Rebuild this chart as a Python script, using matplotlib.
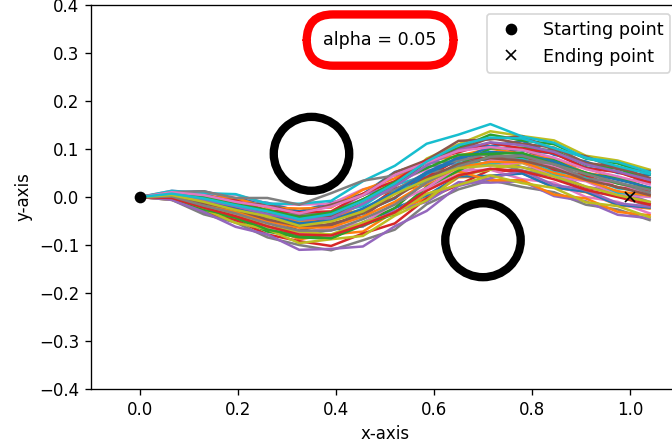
import numpy as np
import matplotlib.pyplot as plt
from matplotlib.patches import Circle

# x positions of the trajectory samples
x_steps = [0.0, 0.065, 0.13, 0.195, 0.26, 0.325, 0.39, 0.455, 0.52, 0.585,
           0.65, 0.715, 0.78, 0.845, 0.91, 0.975, 1.04]

paths = [
    [0, 0.010, 0.012, -0.004, -0.012, -0.030, -0.012, 0.006, 0.052, 0.072, 0.108, 0.106, 0.117, 0.088, 0.074, 0.050, 0.046],
    [0, -0.004, -0.020, -0.048, -0.060, -0.088, -0.078, -0.072, -0.030, -0.002, 0.041, 0.044, 0.050, 0.020, 0.010, -0.017, -0.024],
    [0, 0.006, -0.008, -0.016, -0.040, -0.045, -0.044, -0.008, 0.024, 0.075, 0.102, 0.130, 0.118, 0.110, 0.080, 0.070, 0.048],
    [0, -0.005, -0.033, -0.048, -0.078, -0.092, -0.102, -0.076, -0.055, -0.003, 0.025, 0.057, 0.052, 0.047, 0.019, 0.010, -0.014],
    [0, 0.009, -0.001, -0.008, -0.030, -0.034, -0.032, 0.004, 0.025, 0.063, 0.070, 0.083, 0.062, 0.050, 0.021, 0.012, -0.010],
    [0, 0.002, -0.012, -0.036, -0.046, -0.070, -0.055, -0.041, 0.008, 0.040, 0.085, 0.089, 0.099, 0.073, 0.062, 0.037, 0.032],
    [0, 0.013, 0.007, 0.005, -0.014, -0.016, -0.014, 0.016, 0.031, 0.057, 0.055, 0.057, 0.037, 0.030, 0.000, -0.010, -0.034],
    [0, -0.006, -0.036, -0.053, -0.084, -0.100, -0.111, -0.090, -0.068, -0.015, 0.016, 0.035, 0.021, 0.010, -0.016, -0.026, -0.048],
    [0, 0.004, -0.013, -0.022, -0.044, -0.050, -0.049, -0.013, 0.021, 0.080, 0.110, 0.137, 0.127, 0.118, 0.086, 0.076, 0.057],
    [0, 0.005, 0.000, -0.021, -0.028, -0.049, -0.033, -0.019, 0.025, 0.045, 0.079, 0.077, 0.083, 0.053, 0.043, 0.018, 0.012],
    [0, -0.001, -0.016, -0.042, -0.052, -0.080, -0.068, -0.061, -0.023, 0.003, 0.043, 0.044, 0.049, 0.020, 0.011, -0.016, -0.022],
    [0, 0.011, 0.002, -0.002, -0.022, -0.024, -0.022, 0.015, 0.039, 0.075, 0.086, 0.101, 0.089, 0.080, 0.050, 0.041, 0.018],
    [0, -0.003, -0.029, -0.043, -0.072, -0.084, -0.087, -0.053, -0.023, 0.035, 0.067, 0.101, 0.103, 0.097, 0.067, 0.059, 0.036],
    [0, 0.005, -0.005, -0.026, -0.036, -0.058, -0.044, -0.030, 0.017, 0.041, 0.079, 0.082, 0.087, 0.057, 0.045, 0.020, 0.014],
    [0, -0.001, -0.014, -0.039, -0.048, -0.075, -0.066, -0.061, -0.029, -0.010, 0.031, 0.030, 0.033, 0.002, -0.009, -0.037, -0.044],
    [0, 0.008, 0.006, -0.012, -0.016, -0.035, -0.016, 0.003, 0.051, 0.077, 0.117, 0.120, 0.127, 0.098, 0.085, 0.058, 0.054],
    [0, -0.001, -0.024, -0.037, -0.064, -0.076, -0.082, -0.055, -0.033, 0.019, 0.047, 0.077, 0.071, 0.065, 0.035, 0.029, 0.006],
    [0, 0.008, -0.004, -0.010, -0.032, -0.036, -0.036, -0.005, 0.015, 0.051, 0.059, 0.073, 0.055, 0.043, 0.013, 0.003, -0.020],
    [0, -0.006, -0.025, -0.054, -0.067, -0.096, -0.088, -0.081, -0.039, -0.007, 0.045, 0.057, 0.071, 0.045, 0.035, 0.007, 0.002],
    [0, 0.013, 0.008, 0.006, -0.014, -0.014, -0.008, 0.033, 0.065, 0.111, 0.130, 0.152, 0.126, 0.113, 0.081, 0.073, 0.052],
    [0, 0.003, -0.015, -0.025, -0.050, -0.059, -0.062, -0.031, -0.003, 0.049, 0.077, 0.105, 0.097, 0.091, 0.061, 0.053, 0.030],
    [0, 0.004, -0.003, -0.024, -0.031, -0.054, -0.040, -0.027, 0.011, 0.025, 0.053, 0.035, 0.035, 0.005, -0.003, -0.031, -0.038],
    [0, -0.002, -0.026, -0.040, -0.068, -0.080, -0.086, -0.059, -0.035, 0.021, 0.055, 0.087, 0.083, 0.077, 0.047, 0.041, 0.018],
    [0, 0.009, -0.002, -0.007, -0.028, -0.032, -0.030, 0.007, 0.033, 0.077, 0.093, 0.113, 0.101, 0.091, 0.060, 0.052, 0.030],
    [0, -0.006, -0.031, -0.062, -0.078, -0.110, -0.108, -0.103, -0.061, -0.029, 0.023, 0.039, 0.055, 0.025, 0.015, -0.013, -0.020],
    [0, 0.007, -0.007, -0.014, -0.036, -0.040, -0.040, -0.005, 0.023, 0.073, 0.099, 0.123, 0.111, 0.103, 0.071, 0.063, 0.040],
    [0, 0.001, -0.014, -0.039, -0.049, -0.075, -0.064, -0.055, -0.013, 0.019, 0.063, 0.065, 0.073, 0.043, 0.033, 0.005, 0.000],
    [0, 0.010, 0.012, -0.002, -0.002, -0.016, 0.008, 0.034, 0.045, 0.071, 0.075, 0.091, 0.077, 0.069, 0.039, 0.031, 0.008],
    [0, 0.000, -0.022, -0.034, -0.061, -0.072, -0.078, -0.053, -0.035, 0.007, 0.025, 0.045, 0.029, 0.019, -0.011, -0.019, -0.042],
    [0, 0.004, -0.008, -0.029, -0.039, -0.062, -0.046, -0.035, 0.011, 0.033, 0.071, 0.069, 0.079, 0.047, 0.038, 0.009, 0.004],
    [0, 0.005, -0.006, -0.024, -0.038, -0.055, -0.049, -0.024, 0.010, 0.052, 0.082, 0.094, 0.090, 0.074, 0.050, 0.036, 0.020],
    [0, 0.002, -0.015, -0.030, -0.050, -0.064, -0.063, -0.041, -0.010, 0.030, 0.062, 0.073, 0.073, 0.050, 0.035, 0.012, 0.003],
    [0, 0.007, 0.000, -0.015, -0.027, -0.042, -0.032, -0.005, 0.031, 0.060, 0.088, 0.090, 0.092, 0.068, 0.051, 0.028, 0.017],
    [0, -0.002, -0.022, -0.040, -0.061, -0.078, -0.080, -0.058, -0.032, 0.013, 0.045, 0.059, 0.054, 0.037, 0.015, 0.000, -0.016],
    [0, 0.006, -0.006, -0.019, -0.036, -0.047, -0.044, -0.014, 0.022, 0.066, 0.098, 0.114, 0.108, 0.094, 0.068, 0.053, 0.036],
    [0, 0.003, -0.013, -0.026, -0.047, -0.060, -0.058, -0.034, -0.001, 0.039, 0.069, 0.081, 0.076, 0.060, 0.036, 0.021, 0.004],
    [0, 0.010, 0.004, -0.010, -0.020, -0.034, -0.020, 0.004, 0.046, 0.072, 0.096, 0.104, 0.098, 0.082, 0.058, 0.043, 0.026],
    [0, 0.001, -0.018, -0.034, -0.055, -0.070, -0.070, -0.046, -0.016, 0.030, 0.064, 0.084, 0.086, 0.068, 0.048, 0.030, 0.015],
    [0, 0.004, -0.010, -0.027, -0.040, -0.060, -0.051, -0.030, 0.006, 0.036, 0.060, 0.066, 0.062, 0.043, 0.022, 0.004, -0.010],
    [0, 0.007, -0.003, -0.017, -0.030, -0.046, -0.036, -0.008, 0.028, 0.074, 0.108, 0.124, 0.122, 0.102, 0.082, 0.064, 0.048],
]

start = (0.0, 0.0)
end = (1.0, 0.0)
obstacles = [(0.35, 0.09), (0.70, -0.09)]
obstacle_r = 0.077
alpha = 0.05

fig = plt.figure(figsize=(672 / 120, 445 / 120), dpi=120)
ax = fig.add_axes([0.1354, 0.1258, 0.875, 0.8629])

for p in paths:
    ax.plot(x_steps, p, lw=1.5)

for c in obstacles:
    ax.add_patch(Circle(c, obstacle_r, fill=False, color='k', lw=5))

ax.plot(start[0], start[1], 'ko', label="Starting point")
ax.plot(end[0], end[1], 'kx', label="Ending point")

ax.text(0.49, 0.327, "alpha = %.2f" % alpha, ha='center', va='center', fontsize=10.5,
        bbox=dict(boxstyle='round,pad=0.95,rounding_size=1.5', fc='white', ec='red', lw=5))

ax.set_xlim(-0.1, 1.1)
ax.set_ylim(-0.4, 0.4)
ax.set_yticks(np.arange(-0.4, 0.41, 0.1))
ax.set_xlabel("x-axis")
ax.set_ylabel("y-axis")
ax.legend(loc='upper right', fontsize=10.5)

fig.savefig("out.png", dpi=120)
